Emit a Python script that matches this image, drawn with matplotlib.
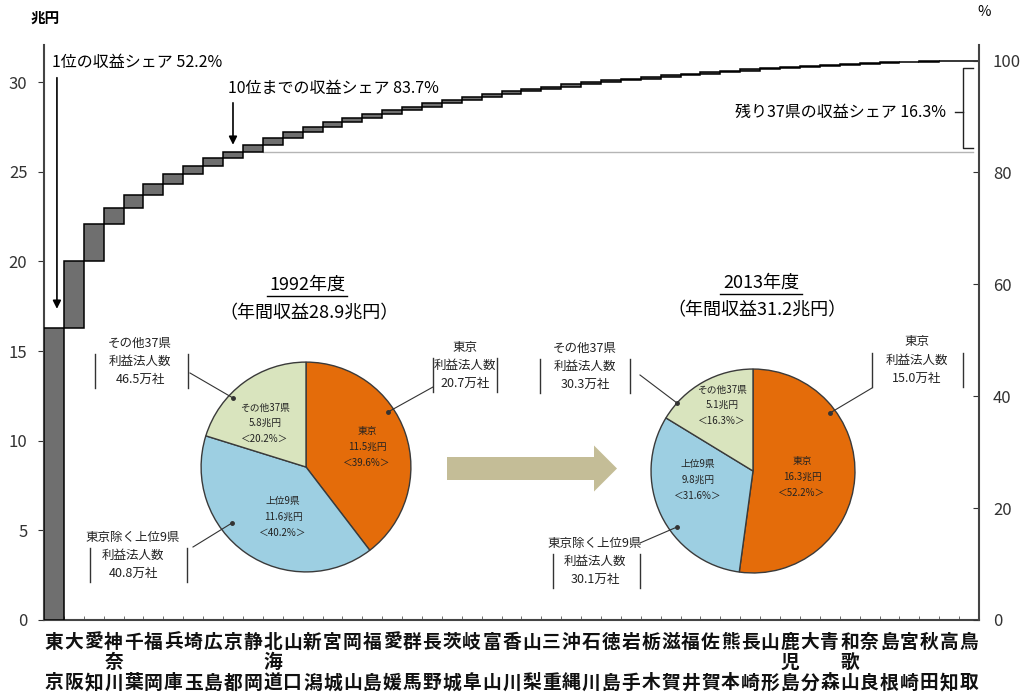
import numpy as np
import matplotlib
matplotlib.use('Agg')
import matplotlib.pyplot as plt
from matplotlib.patches import FancyArrow

plt.rcParams['font.family'] = ['Noto Sans CJK JP', 'DejaVu Sans']

# 都道府県（2013年度の収益順）
prefs = ['東京', '大阪', '愛知', '神奈川', '千葉', '福岡', '兵庫', '埼玉', '広島', '京都',
         '静岡', '北海道', '山口', '新潟', '宮城', '岡山', '福島', '愛媛', '群馬', '長野',
         '茨城', '岐阜', '富山', '香川', '山梨', '三重', '沖縄', '石川', '徳島', '岩手',
         '栃木', '滋賀', '福井', '佐賀', '熊本', '長崎', '山形', '鹿児島', '大分', '青森',
         '和歌山', '奈良', '島根', '宮崎', '秋田', '高知', '鳥取']
# 年間収益（兆円）
revenue = [16.3, 3.7, 2.1, 0.9, 0.7, 0.6, 0.55, 0.45, 0.45, 0.35,
           0.42, 0.38, 0.32, 0.28, 0.26, 0.24, 0.22, 0.21, 0.20, 0.19,
           0.18, 0.17, 0.16, 0.15, 0.14, 0.13, 0.12, 0.12, 0.11, 0.10,
           0.10, 0.09, 0.09, 0.08, 0.08, 0.07, 0.07, 0.06, 0.06, 0.06,
           0.05, 0.05, 0.04, 0.03, 0.03, 0.02, 0.02]

# 円グラフ（東京 / 東京除く上位9県 / その他37県）
slice_names = ['東京', '上位9県', 'その他37県']
callout_names = ['東京', '東京除く上位9県', 'その他37県']
slice_colors = ['#E46C0A', '#9DCFE2', '#D9E4BE']
share_1992 = [39.6, 40.2, 20.2]
amount_1992 = [11.5, 11.6, 5.8]
corps_1992 = [20.7, 40.8, 46.5]
total_1992 = 28.9
share_2013 = [52.2, 31.6, 16.3]
amount_2013 = [16.3, 9.8, 5.1]
corps_2013 = [15.0, 30.1, 30.3]

rev = np.array(revenue)
cum = np.cumsum(rev)
bottoms = cum - rev
total = cum[-1]
top10 = cum[9]
x = np.arange(len(prefs))

fig = plt.figure(figsize=(10.24, 7.0), dpi=100)
ax = fig.add_axes([44 / 1024, 80 / 700, 935 / 1024, 575 / 700])
ymax = 32.07
ax.set_xlim(-0.5, len(prefs) - 0.5)
ax.set_ylim(0, ymax)

ax.bar(x, rev, bottom=bottoms, width=1.0, color='#6F6F6F', edgecolor='black', linewidth=1.1, zorder=3)

# 上位10位ライン
ax.plot([10.5, 46.2], [top10, top10], color='#B5B5B5', lw=1.0, zorder=2)

ax.set_yticks(range(0, 31, 5))
ax.tick_params(axis='y', direction='out', length=4, labelsize=12, colors='#333333', pad=8)
ax.set_xticks(x)
ax.set_xticklabels([p[0] + '\n' + (p[1] if len(p) == 3 else '') + '\n' + p[-1] for p in prefs],
                   fontsize=13.5, linespacing=1.1, color='#111111', fontweight='semibold')
ax.tick_params(axis='x', length=0, pad=9)
ax.set_xticks(x[1:] - 0.5, minor=True)
ax.tick_params(axis='x', which='minor', direction='in', length=3, color='#555555')
for s in ['top', 'right']:
    ax.spines[s].set_visible(False)
for s in ['left', 'bottom']:
    ax.spines[s].set_color('#444444')
    ax.spines[s].set_linewidth(1.5)

ax2 = ax.twinx()
ax2.set_ylim(0, ymax * 100 / total)
ax2.set_yticks(range(0, 101, 20))
ax2.tick_params(axis='y', direction='in', length=4, labelsize=12, colors='#333333', pad=10)
for s in ['top', 'left', 'bottom']:
    ax2.spines[s].set_visible(False)
ax2.spines['right'].set_color('#444444')
ax2.spines['right'].set_linewidth(1.5)

fig.text(45 / 1024, 1 - 18 / 700, '兆円', ha='center', va='center', fontsize=10.5, fontweight='semibold')
fig.text(984 / 1024, 1 - 12 / 700, '%', ha='center', va='center', fontsize=10.5)

# 注記
arrow_kw = dict(arrowstyle='-|>', color='black', lw=1.2, mutation_scale=12)
ax.annotate('', xy=(0.15, 17.2), xytext=(0.15, 30.4), arrowprops=arrow_kw, zorder=5)
ax.text(-0.1, 31.1, f'1位の収益シェア {rev[0] / total * 100:.1f}%', ha='left', va='center', fontsize=11.5)
ax.annotate('', xy=(9.0, top10 + 0.25), xytext=(9.0, 29.0), arrowprops=arrow_kw, zorder=5)
ax.text(8.75, 29.67, f'10位までの収益シェア {top10 / total * 100:.1f}%', ha='left', va='center', fontsize=11.5)
ax.text(44.85, 28.33, f'残り{len(prefs) - 10}県の収益シェア {(total - top10) / total * 100:.1f}%',
        ha='right', va='center', fontsize=11.5)
bx = 45.7
ax.plot([46.2, bx, bx, 46.2], [total - 0.4, total - 0.4, top10 + 0.2, top10 + 0.2], color='#222222', lw=1.0)
ax.plot([bx - 0.4, bx], [28.33, 28.33], color='#222222', lw=1.0)

# 円グラフ
pie_specs = [((306, 467, 107), share_1992), ((753, 471, 104), share_2013)]
for (cx, cy, r), shares in pie_specs:
    pax = fig.add_axes([(cx - r) / 1024, 1 - (cy + r) / 700, 2 * r / 1024, 2 * r / 700])
    pax.pie(shares, colors=slice_colors, startangle=90, counterclock=False,
            wedgeprops=dict(edgecolor='#3A3A3A', linewidth=1.0))
    pax.set_xlim(-1.02, 1.02)
    pax.set_ylim(-1.02, 1.02)
    pax.set_aspect('equal')

# 重ね書き用（ピクセル座標）
ov = fig.add_axes([0, 0, 1, 1], zorder=10)
ov.set_xlim(0, 1024)
ov.set_ylim(700, 0)
ov.axis('off')
ov.patch.set_alpha(0)

ov.add_patch(FancyArrow(447, 468.5, 170, 0, width=23, head_width=46, head_length=23,
                        length_includes_head=True, color='#C4BD97', lw=0))

titles = [('1992年度', f'（年間収益{total_1992:.1f}兆円）', 307, 285, 309, 313, 267, 347, 296),
          ('2013年度', f'（年間収益{total:.1f}兆円）', 761, 283, 757, 310, 720, 802, 294)]
for t1, t2, x1, y1, x2, y2, ul0, ul1, uly in titles:
    ov.text(x1, y1, t1, ha='center', va='center', fontsize=13)
    ov.plot([ul0, ul1], [uly, uly], color='black', lw=1.0)
    ov.text(x2, y2, t2, ha='center', va='center', fontsize=13)

# 扇形内のラベル位置 [東京, 上位9県, その他]
inner_pos = [[(367, 447), (283, 517), (265, 423)],
             [(802, 477), (698, 480), (722, 405)]]
for pos, amounts, shares in zip(inner_pos, [amount_1992, amount_2013], [share_1992, share_2013]):
    for (px, py), nm, a, s in zip(pos, slice_names, amounts, shares):
        ov.text(px, py, f'{nm}\n{a:.1f}兆円\n＜{s:.1f}%＞', ha='center', va='center',
                fontsize=7, linespacing=1.7, color='#222222')

# 利益法人数の吹き出し: (中心x, 1行目y, 左枠x, 右枠x, 線の始点, 線の終点)
callout_pos = [[(465, 347, 433, 497, (433, 387), (388, 412)),
                (133, 537, 90, 187, (193, 547), (232, 523)),
                (140, 343, 95, 188, (190, 373), (233, 398))],
               [(917, 342, 872, 963, (872, 388), (830, 413)),
                (595, 543, 553, 640, (640, 543), (677, 527)),
                (585, 348, 540, 630, (640, 375), (677, 403))]]
for pos, corps in zip(callout_pos, [corps_1992, corps_2013]):
    for (cx, y0, xl, xr, p0, p1), nm, c in zip(pos, callout_names, corps):
        lines = [nm, '利益法人数', f'{c:.1f}万社']
        for k, ln in enumerate(lines):
            ov.text(cx, y0 + 18 * k, ln, ha='center', va='center', fontsize=9, color='#222222')
        for bxp in (xl, xr):
            ov.plot([bxp, bxp], [y0 + 11, y0 + 45], color='#333333', lw=1.0)
        ov.plot([p0[0], p1[0]], [p0[1], p1[1]], color='#333333', lw=0.8)
        ov.plot(p1[0], p1[1], 'o', color='#333333', ms=2.5)

fig.savefig('out.png', dpi=100)
